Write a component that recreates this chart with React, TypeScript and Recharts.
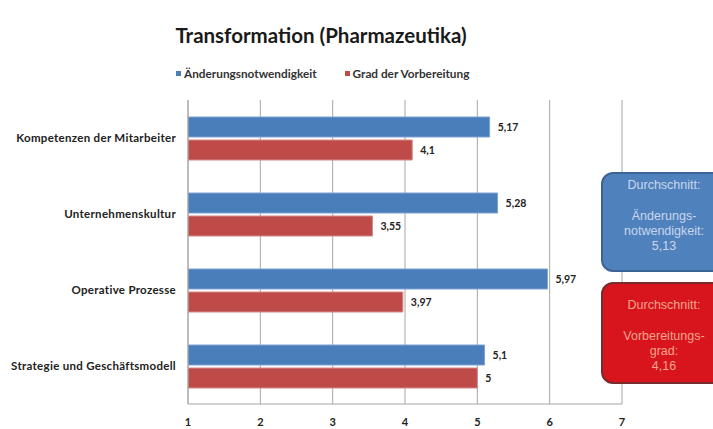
import React from "react";
import { BarChart, Bar, XAxis, YAxis, CartesianGrid, LabelList } from "recharts";

const categories = [
  "Kompetenzen der Mitarbeiter",
  "Unternehmenskultur",
  "Operative Prozesse",
  "Strategie und Geschäftsmodell",
];
const aenderung = [5.17, 5.28, 5.97, 5.1];
const vorbereitung = [4.1, 3.55, 3.97, 5];
const xTicks = [1, 2, 3, 4, 5, 6, 7];

const data = categories.map((name, i) => ({
  name,
  aenderung: aenderung[i],
  vorbereitung: vorbereitung[i],
}));

const fmt = (v: any) => String(v).replace(".", ",");
const font = "Lato, 'Open Sans', sans-serif";

const CatTick = ({ x, y, payload }: any) => (
  <text
    x={x}
    y={y}
    dy={4}
    textAnchor="end"
    fontSize={11.5}
    fontWeight={700}
    letterSpacing={0.3}
    fill="#222"
    fontFamily={font}
  >
    {payload.value}
  </text>
);

const Box = ({ top, height, bg, border, color, padTop, lines }: any) => (
  <div
    style={{
      position: "absolute",
      left: 601,
      top,
      width: 135,
      height,
      background: bg,
      border: `2px solid ${border}`,
      borderRadius: 12,
      boxSizing: "border-box",
      color,
      fontFamily: "'Liberation Sans', Arial, sans-serif",
      fontSize: 12.5,
      lineHeight: "15px",
    }}
  >
    <div style={{ width: 122, textAlign: "center", paddingTop: padTop }}>
      {lines.map((l: string, i: number) => (
        <div key={i} style={{ height: l === "" ? 16 : 15, whiteSpace: "nowrap" }}>
          {l}
        </div>
      ))}
    </div>
  </div>
);

const App = () => {
  return (
    <div
      style={{
        position: "absolute",
        left: 0,
        top: 0,
        width: 713,
        height: 429,
        overflow: "hidden",
        background: "#fff",
        fontFamily: font,
      }}
    >
      <div
        style={{
          position: "absolute",
          left: 0,
          width: 642,
          top: 23,
          textAlign: "center",
          fontWeight: 700,
          fontSize: 20.5,
          color: "#1a1a1a",
        }}
      >
        Transformation (Pharmazeutika)
      </div>
      <div
        style={{
          position: "absolute",
          left: 176,
          top: 66,
          fontSize: 11.8,
          fontWeight: 700,
          color: "#333",
          display: "flex",
          alignItems: "center",
        }}
      >
        <span style={{ width: 5, height: 5, background: "#4a7ebb", marginRight: 3 }} />
        <span style={{ marginRight: 28 }}>Änderungsnotwendigkeit</span>
        <span style={{ width: 5, height: 5, background: "#be4b48", marginRight: 3 }} />
        <span>Grad der Vorbereitung</span>
      </div>
      <div style={{ position: "absolute", left: 0, top: 0 }}>
        <BarChart
          width={713}
          height={429}
          data={data}
          layout="vertical"
          margin={{ top: 100, right: 91, left: 0, bottom: 0 }}
          barSize={20}
          barGap={3}
        >
          <CartesianGrid horizontal={false} stroke="#a6a6a6" />
          <XAxis
            type="number"
            domain={[1, 7]}
            ticks={xTicks}
            allowDataOverflow
            height={25}
            tickLine={false}
            axisLine={{ stroke: "#a6a6a6" }}
            tickMargin={8}
            tick={{ fontSize: 11, fontWeight: 700, fill: "#222", fontFamily: font }}
          />
          <YAxis
            type="category"
            dataKey="name"
            width={188}
            tickLine={false}
            axisLine={{ stroke: "#a6a6a6" }}
            tickMargin={6}
            tick={<CatTick />}
          />
          <Bar dataKey="aenderung" fill="#4a7ebb" stroke="#7fa3d3" strokeWidth={1} isAnimationActive={false}>
            <LabelList
              dataKey="aenderung"
              position="right"
              offset={8}
              formatter={fmt}
              style={{ fontSize: 10.5, fontWeight: 700, fill: "#222", fontFamily: font }}
            />
          </Bar>
          <Bar dataKey="vorbereitung" fill="#be4b48" stroke="#d58a88" strokeWidth={1} isAnimationActive={false}>
            <LabelList
              dataKey="vorbereitung"
              position="right"
              offset={8}
              formatter={fmt}
              style={{ fontSize: 10.5, fontWeight: 700, fill: "#222", fontFamily: font }}
            />
          </Bar>
        </BarChart>
      </div>
      <Box
        top={172}
        height={100}
        bg="#4f81bd"
        border="#3b6496"
        color="#c9d7ee"
        padTop={4}
        lines={["Durchschnitt:", "", "Änderungs-", "notwendigkeit:", "5,13"]}
      />
      <Box
        top={282}
        height={102}
        bg="#d8141c"
        border="#7a2b2b"
        color="#f3a58e"
        padTop={14}
        lines={["Durchschnitt:", "", "Vorbereitungs-", "grad:", "4,16"]}
      />
    </div>
  );
};

export default App;
